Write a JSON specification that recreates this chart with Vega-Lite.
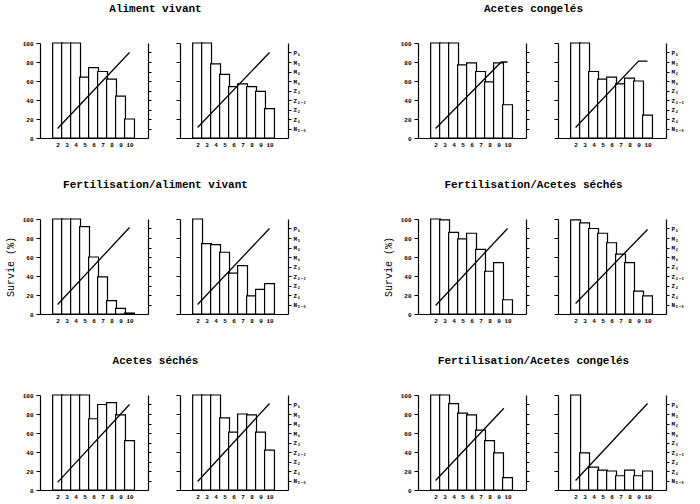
{
"$schema":"https://vega.github.io/schema/vega-lite/v6.json",
"padding":{"left":5,"top":3,"right":3,"bottom":2},
"background":"white",
"datasets":{
"barres":[
{"condition":"Aliment vivant","bac":1,"jour":2,"survie":100},{"condition":"Aliment vivant","bac":1,"jour":3,"survie":100},{"condition":"Aliment vivant","bac":1,"jour":4,"survie":100},{"condition":"Aliment vivant","bac":1,"jour":5,"survie":64},{"condition":"Aliment vivant","bac":1,"jour":6,"survie":74},{"condition":"Aliment vivant","bac":1,"jour":7,"survie":70},{"condition":"Aliment vivant","bac":1,"jour":8,"survie":62},{"condition":"Aliment vivant","bac":1,"jour":9,"survie":44},{"condition":"Aliment vivant","bac":1,"jour":10,"survie":20},
{"condition":"Aliment vivant","bac":2,"jour":2,"survie":100},{"condition":"Aliment vivant","bac":2,"jour":3,"survie":100},{"condition":"Aliment vivant","bac":2,"jour":4,"survie":78},{"condition":"Aliment vivant","bac":2,"jour":5,"survie":67},{"condition":"Aliment vivant","bac":2,"jour":6,"survie":54},{"condition":"Aliment vivant","bac":2,"jour":7,"survie":57},{"condition":"Aliment vivant","bac":2,"jour":8,"survie":54},{"condition":"Aliment vivant","bac":2,"jour":9,"survie":49},{"condition":"Aliment vivant","bac":2,"jour":10,"survie":31},
{"condition":"Acetes congelés","bac":1,"jour":2,"survie":100},{"condition":"Acetes congelés","bac":1,"jour":3,"survie":100},{"condition":"Acetes congelés","bac":1,"jour":4,"survie":100},{"condition":"Acetes congelés","bac":1,"jour":5,"survie":77},{"condition":"Acetes congelés","bac":1,"jour":6,"survie":79},{"condition":"Acetes congelés","bac":1,"jour":7,"survie":70},{"condition":"Acetes congelés","bac":1,"jour":8,"survie":59},{"condition":"Acetes congelés","bac":1,"jour":9,"survie":79},{"condition":"Acetes congelés","bac":1,"jour":10,"survie":35},
{"condition":"Acetes congelés","bac":2,"jour":2,"survie":100},{"condition":"Acetes congelés","bac":2,"jour":3,"survie":100},{"condition":"Acetes congelés","bac":2,"jour":4,"survie":70},{"condition":"Acetes congelés","bac":2,"jour":5,"survie":62},{"condition":"Acetes congelés","bac":2,"jour":6,"survie":64},{"condition":"Acetes congelés","bac":2,"jour":7,"survie":57},{"condition":"Acetes congelés","bac":2,"jour":8,"survie":63},{"condition":"Acetes congelés","bac":2,"jour":9,"survie":60},{"condition":"Acetes congelés","bac":2,"jour":10,"survie":24},
{"condition":"Fertilisation/aliment vivant","bac":1,"jour":2,"survie":100},{"condition":"Fertilisation/aliment vivant","bac":1,"jour":3,"survie":100},{"condition":"Fertilisation/aliment vivant","bac":1,"jour":4,"survie":100},{"condition":"Fertilisation/aliment vivant","bac":1,"jour":5,"survie":92},{"condition":"Fertilisation/aliment vivant","bac":1,"jour":6,"survie":60},{"condition":"Fertilisation/aliment vivant","bac":1,"jour":7,"survie":39},{"condition":"Fertilisation/aliment vivant","bac":1,"jour":8,"survie":14},{"condition":"Fertilisation/aliment vivant","bac":1,"jour":9,"survie":6},{"condition":"Fertilisation/aliment vivant","bac":1,"jour":10,"survie":1},
{"condition":"Fertilisation/aliment vivant","bac":2,"jour":2,"survie":100},{"condition":"Fertilisation/aliment vivant","bac":2,"jour":3,"survie":74},{"condition":"Fertilisation/aliment vivant","bac":2,"jour":4,"survie":73},{"condition":"Fertilisation/aliment vivant","bac":2,"jour":5,"survie":65},{"condition":"Fertilisation/aliment vivant","bac":2,"jour":6,"survie":43},{"condition":"Fertilisation/aliment vivant","bac":2,"jour":7,"survie":51},{"condition":"Fertilisation/aliment vivant","bac":2,"jour":8,"survie":19},{"condition":"Fertilisation/aliment vivant","bac":2,"jour":9,"survie":26},{"condition":"Fertilisation/aliment vivant","bac":2,"jour":10,"survie":32},
{"condition":"Fertilisation/Acetes séchés","bac":1,"jour":2,"survie":100},{"condition":"Fertilisation/Acetes séchés","bac":1,"jour":3,"survie":99},{"condition":"Fertilisation/Acetes séchés","bac":1,"jour":4,"survie":86},{"condition":"Fertilisation/Acetes séchés","bac":1,"jour":5,"survie":79},{"condition":"Fertilisation/Acetes séchés","bac":1,"jour":6,"survie":85},{"condition":"Fertilisation/Acetes séchés","bac":1,"jour":7,"survie":68},{"condition":"Fertilisation/Acetes séchés","bac":1,"jour":8,"survie":45},{"condition":"Fertilisation/Acetes séchés","bac":1,"jour":9,"survie":54},{"condition":"Fertilisation/Acetes séchés","bac":1,"jour":10,"survie":15},
{"condition":"Fertilisation/Acetes séchés","bac":2,"jour":2,"survie":99},{"condition":"Fertilisation/Acetes séchés","bac":2,"jour":3,"survie":96},{"condition":"Fertilisation/Acetes séchés","bac":2,"jour":4,"survie":90},{"condition":"Fertilisation/Acetes séchés","bac":2,"jour":5,"survie":85},{"condition":"Fertilisation/Acetes séchés","bac":2,"jour":6,"survie":75},{"condition":"Fertilisation/Acetes séchés","bac":2,"jour":7,"survie":63},{"condition":"Fertilisation/Acetes séchés","bac":2,"jour":8,"survie":54},{"condition":"Fertilisation/Acetes séchés","bac":2,"jour":9,"survie":24},{"condition":"Fertilisation/Acetes séchés","bac":2,"jour":10,"survie":19},
{"condition":"Acetes séchés","bac":1,"jour":2,"survie":100},{"condition":"Acetes séchés","bac":1,"jour":3,"survie":100},{"condition":"Acetes séchés","bac":1,"jour":4,"survie":100},{"condition":"Acetes séchés","bac":1,"jour":5,"survie":100},{"condition":"Acetes séchés","bac":1,"jour":6,"survie":75},{"condition":"Acetes séchés","bac":1,"jour":7,"survie":90},{"condition":"Acetes séchés","bac":1,"jour":8,"survie":92},{"condition":"Acetes séchés","bac":1,"jour":9,"survie":79},{"condition":"Acetes séchés","bac":1,"jour":10,"survie":52},
{"condition":"Acetes séchés","bac":2,"jour":2,"survie":100},{"condition":"Acetes séchés","bac":2,"jour":3,"survie":100},{"condition":"Acetes séchés","bac":2,"jour":4,"survie":100},{"condition":"Acetes séchés","bac":2,"jour":5,"survie":76},{"condition":"Acetes séchés","bac":2,"jour":6,"survie":61},{"condition":"Acetes séchés","bac":2,"jour":7,"survie":80},{"condition":"Acetes séchés","bac":2,"jour":8,"survie":79},{"condition":"Acetes séchés","bac":2,"jour":9,"survie":61},{"condition":"Acetes séchés","bac":2,"jour":10,"survie":42},
{"condition":"Fertilisation/Acetes congelés","bac":1,"jour":2,"survie":100},{"condition":"Fertilisation/Acetes congelés","bac":1,"jour":3,"survie":100},{"condition":"Fertilisation/Acetes congelés","bac":1,"jour":4,"survie":91},{"condition":"Fertilisation/Acetes congelés","bac":1,"jour":5,"survie":81},{"condition":"Fertilisation/Acetes congelés","bac":1,"jour":6,"survie":79},{"condition":"Fertilisation/Acetes congelés","bac":1,"jour":7,"survie":63},{"condition":"Fertilisation/Acetes congelés","bac":1,"jour":8,"survie":52},{"condition":"Fertilisation/Acetes congelés","bac":1,"jour":9,"survie":39},{"condition":"Fertilisation/Acetes congelés","bac":1,"jour":10,"survie":13},
{"condition":"Fertilisation/Acetes congelés","bac":2,"jour":2,"survie":100},{"condition":"Fertilisation/Acetes congelés","bac":2,"jour":3,"survie":39},{"condition":"Fertilisation/Acetes congelés","bac":2,"jour":4,"survie":24},{"condition":"Fertilisation/Acetes congelés","bac":2,"jour":5,"survie":21},{"condition":"Fertilisation/Acetes congelés","bac":2,"jour":6,"survie":20},{"condition":"Fertilisation/Acetes congelés","bac":2,"jour":7,"survie":15},{"condition":"Fertilisation/Acetes congelés","bac":2,"jour":8,"survie":21},{"condition":"Fertilisation/Acetes congelés","bac":2,"jour":9,"survie":15},{"condition":"Fertilisation/Acetes congelés","bac":2,"jour":10,"survie":20}
],
"stades":[
{"condition":"Aliment vivant","bac":1,"jour":2,"stade":10},{"condition":"Aliment vivant","bac":1,"jour":10,"stade":90},
{"condition":"Aliment vivant","bac":2,"jour":2,"stade":11},{"condition":"Aliment vivant","bac":2,"jour":10,"stade":90},
{"condition":"Acetes congelés","bac":1,"jour":2,"stade":10},{"condition":"Acetes congelés","bac":1,"jour":9.3,"stade":80},{"condition":"Acetes congelés","bac":1,"jour":10,"stade":80},
{"condition":"Acetes congelés","bac":2,"jour":2,"stade":11},{"condition":"Acetes congelés","bac":2,"jour":9,"stade":81},{"condition":"Acetes congelés","bac":2,"jour":10,"stade":81},
{"condition":"Fertilisation/aliment vivant","bac":1,"jour":2,"stade":10},{"condition":"Fertilisation/aliment vivant","bac":1,"jour":10,"stade":91},
{"condition":"Fertilisation/aliment vivant","bac":2,"jour":2,"stade":10},{"condition":"Fertilisation/aliment vivant","bac":2,"jour":10,"stade":90},
{"condition":"Fertilisation/Acetes séchés","bac":1,"jour":2,"stade":9},{"condition":"Fertilisation/Acetes séchés","bac":1,"jour":10,"stade":90},
{"condition":"Fertilisation/Acetes séchés","bac":2,"jour":2,"stade":11},{"condition":"Fertilisation/Acetes séchés","bac":2,"jour":10,"stade":89},
{"condition":"Acetes séchés","bac":1,"jour":2,"stade":8},{"condition":"Acetes séchés","bac":1,"jour":10,"stade":90},
{"condition":"Acetes séchés","bac":2,"jour":2,"stade":9},{"condition":"Acetes séchés","bac":2,"jour":10,"stade":91},
{"condition":"Fertilisation/Acetes congelés","bac":1,"jour":2,"stade":10},{"condition":"Fertilisation/Acetes congelés","bac":1,"jour":9.6,"stade":86},
{"condition":"Fertilisation/Acetes congelés","bac":2,"jour":2,"stade":10},{"condition":"Fertilisation/Acetes congelés","bac":2,"jour":10,"stade":91}
]
},
"vconcat":[
{"hconcat":[
 {"title":"Aliment vivant","spacing":23,"hconcat":[
  {"width":108,"height":95,"encoding":{"x":{"field":"jour","type":"quantitative","scale":{"domain":[0.6,11.5],"nice":false,"zero":false},"axis":{"values":[2,3,4,5,6,7,8,9,10],"title":null,"ticks":false,"labelPadding":3}}},
   "layer":[
    {"data":{"name":"barres"},"transform":[{"filter":"datum.condition=='Aliment vivant' && datum.bac==1"}],"mark":{"type":"bar","fill":"white","stroke":"black","strokeWidth":1.2,"size":9.9},"encoding":{"y":{"field":"survie","type":"quantitative","scale":{"domain":[0,100]},"axis":{"orient":"left","values":[0,20,40,60,80,100],"tickSize":4,"labelPadding":3,"title":"Survie (%)","titlePadding":7,"titleOpacity":0}}}},
    {"data":{"name":"stades"},"transform":[{"filter":"datum.condition=='Aliment vivant' && datum.bac==1"}],"mark":{"type":"line","color":"black","strokeWidth":1.3},"encoding":{"y":{"field":"stade","type":"quantitative","scale":{"domain":[0,100]},"axis":{"orient":"right","values":[10,20,30,40,50,60,70,80,90],"labels":false,"tickSize":3,"title":null}}}}
   ],"resolve":{"axis":{"y":"independent"}}},
  {"width":108,"height":95,"encoding":{"x":{"field":"jour","type":"quantitative","scale":{"domain":[0.6,11.5],"nice":false,"zero":false},"axis":{"values":[2,3,4,5,6,7,8,9,10],"title":null,"ticks":false,"labelPadding":3}}},
   "layer":[
    {"data":{"name":"barres"},"transform":[{"filter":"datum.condition=='Aliment vivant' && datum.bac==2"}],"mark":{"type":"bar","fill":"white","stroke":"black","strokeWidth":1.2,"size":9.9},"encoding":{"y":{"field":"survie","type":"quantitative","scale":{"domain":[0,100]},"axis":{"orient":"left","values":[0,20,40,60,80,100],"labels":false,"tickSize":4,"title":null}}}},
    {"data":{"name":"stades"},"transform":[{"filter":"datum.condition=='Aliment vivant' && datum.bac==2"}],"mark":{"type":"line","color":"black","strokeWidth":1.3},"encoding":{"y":{"field":"stade","type":"quantitative","scale":{"domain":[0,100]},"axis":{"orient":"right","values":[10,20,30,40,50,60,70,80,90],"tickSize":3,"labelPadding":2,"title":null,"labelExpr":"datum.value==10?'N₅₋₆':datum.value==20?'Z₁':datum.value==30?'Z₂':datum.value==40?'Z₂₋₃':datum.value==50?'Z₃':datum.value==60?'M₁':datum.value==70?'M₂':datum.value==80?'M₃':'P₁'"}}}}
   ],"resolve":{"axis":{"y":"independent"}}}
 ]},
 {"title":"Acetes  congelés","spacing":23,"hconcat":[
  {"width":108,"height":95,"encoding":{"x":{"field":"jour","type":"quantitative","scale":{"domain":[0.6,11.5],"nice":false,"zero":false},"axis":{"values":[2,3,4,5,6,7,8,9,10],"title":null,"ticks":false,"labelPadding":3}}},
   "layer":[
    {"data":{"name":"barres"},"transform":[{"filter":"datum.condition=='Acetes congelés' && datum.bac==1"}],"mark":{"type":"bar","fill":"white","stroke":"black","strokeWidth":1.2,"size":9.9},"encoding":{"y":{"field":"survie","type":"quantitative","scale":{"domain":[0,100]},"axis":{"orient":"left","values":[0,20,40,60,80,100],"tickSize":4,"labelPadding":3,"title":"Survie (%)","titlePadding":7,"titleOpacity":0}}}},
    {"data":{"name":"stades"},"transform":[{"filter":"datum.condition=='Acetes congelés' && datum.bac==1"}],"mark":{"type":"line","color":"black","strokeWidth":1.3},"encoding":{"y":{"field":"stade","type":"quantitative","scale":{"domain":[0,100]},"axis":{"orient":"right","values":[10,20,30,40,50,60,70,80,90],"labels":false,"tickSize":3,"title":null}}}}
   ],"resolve":{"axis":{"y":"independent"}}},
  {"width":108,"height":95,"encoding":{"x":{"field":"jour","type":"quantitative","scale":{"domain":[0.6,11.5],"nice":false,"zero":false},"axis":{"values":[2,3,4,5,6,7,8,9,10],"title":null,"ticks":false,"labelPadding":3}}},
   "layer":[
    {"data":{"name":"barres"},"transform":[{"filter":"datum.condition=='Acetes congelés' && datum.bac==2"}],"mark":{"type":"bar","fill":"white","stroke":"black","strokeWidth":1.2,"size":9.9},"encoding":{"y":{"field":"survie","type":"quantitative","scale":{"domain":[0,100]},"axis":{"orient":"left","values":[0,20,40,60,80,100],"labels":false,"tickSize":4,"title":null}}}},
    {"data":{"name":"stades"},"transform":[{"filter":"datum.condition=='Acetes congelés' && datum.bac==2"}],"mark":{"type":"line","color":"black","strokeWidth":1.3},"encoding":{"y":{"field":"stade","type":"quantitative","scale":{"domain":[0,100]},"axis":{"orient":"right","values":[10,20,30,40,50,60,70,80,90],"tickSize":3,"labelPadding":2,"title":null,"labelExpr":"datum.value==10?'N₅₋₆':datum.value==20?'Z₁':datum.value==30?'Z₂':datum.value==40?'Z₂₋₃':datum.value==50?'Z₃':datum.value==60?'M₁':datum.value==70?'M₂':datum.value==80?'M₃':'P₁'"}}}}
   ],"resolve":{"axis":{"y":"independent"}}}
 ]}
],"spacing":77},
{"hconcat":[
 {"title":"Fertilisation/aliment vivant","spacing":23,"hconcat":[
  {"width":108,"height":95,"encoding":{"x":{"field":"jour","type":"quantitative","scale":{"domain":[0.6,11.5],"nice":false,"zero":false},"axis":{"values":[2,3,4,5,6,7,8,9,10],"title":null,"ticks":false,"labelPadding":3}}},
   "layer":[
    {"data":{"name":"barres"},"transform":[{"filter":"datum.condition=='Fertilisation/aliment vivant' && datum.bac==1"}],"mark":{"type":"bar","fill":"white","stroke":"black","strokeWidth":1.2,"size":9.9},"encoding":{"y":{"field":"survie","type":"quantitative","scale":{"domain":[0,100]},"axis":{"orient":"left","values":[0,20,40,60,80,100],"tickSize":4,"labelPadding":3,"title":"Survie (%)","titlePadding":7}}}},
    {"data":{"name":"stades"},"transform":[{"filter":"datum.condition=='Fertilisation/aliment vivant' && datum.bac==1"}],"mark":{"type":"line","color":"black","strokeWidth":1.3},"encoding":{"y":{"field":"stade","type":"quantitative","scale":{"domain":[0,100]},"axis":{"orient":"right","values":[10,20,30,40,50,60,70,80,90],"labels":false,"tickSize":3,"title":null}}}}
   ],"resolve":{"axis":{"y":"independent"}}},
  {"width":108,"height":95,"encoding":{"x":{"field":"jour","type":"quantitative","scale":{"domain":[0.6,11.5],"nice":false,"zero":false},"axis":{"values":[2,3,4,5,6,7,8,9,10],"title":null,"ticks":false,"labelPadding":3}}},
   "layer":[
    {"data":{"name":"barres"},"transform":[{"filter":"datum.condition=='Fertilisation/aliment vivant' && datum.bac==2"}],"mark":{"type":"bar","fill":"white","stroke":"black","strokeWidth":1.2,"size":9.9},"encoding":{"y":{"field":"survie","type":"quantitative","scale":{"domain":[0,100]},"axis":{"orient":"left","values":[0,20,40,60,80,100],"labels":false,"tickSize":4,"title":null}}}},
    {"data":{"name":"stades"},"transform":[{"filter":"datum.condition=='Fertilisation/aliment vivant' && datum.bac==2"}],"mark":{"type":"line","color":"black","strokeWidth":1.3},"encoding":{"y":{"field":"stade","type":"quantitative","scale":{"domain":[0,100]},"axis":{"orient":"right","values":[10,20,30,40,50,60,70,80,90],"tickSize":3,"labelPadding":2,"title":null,"labelExpr":"datum.value==10?'N₅₋₆':datum.value==20?'Z₁':datum.value==30?'Z₂':datum.value==40?'Z₂₋₃':datum.value==50?'Z₃':datum.value==60?'M₁':datum.value==70?'M₂':datum.value==80?'M₃':'P₁'"}}}}
   ],"resolve":{"axis":{"y":"independent"}}}
 ]},
 {"title":"Fertilisation/Acetes séchés","spacing":23,"hconcat":[
  {"width":108,"height":95,"encoding":{"x":{"field":"jour","type":"quantitative","scale":{"domain":[0.6,11.5],"nice":false,"zero":false},"axis":{"values":[2,3,4,5,6,7,8,9,10],"title":null,"ticks":false,"labelPadding":3}}},
   "layer":[
    {"data":{"name":"barres"},"transform":[{"filter":"datum.condition=='Fertilisation/Acetes séchés' && datum.bac==1"}],"mark":{"type":"bar","fill":"white","stroke":"black","strokeWidth":1.2,"size":9.9},"encoding":{"y":{"field":"survie","type":"quantitative","scale":{"domain":[0,100]},"axis":{"orient":"left","values":[0,20,40,60,80,100],"tickSize":4,"labelPadding":3,"title":"Survie (%)","titlePadding":7}}}},
    {"data":{"name":"stades"},"transform":[{"filter":"datum.condition=='Fertilisation/Acetes séchés' && datum.bac==1"}],"mark":{"type":"line","color":"black","strokeWidth":1.3},"encoding":{"y":{"field":"stade","type":"quantitative","scale":{"domain":[0,100]},"axis":{"orient":"right","values":[10,20,30,40,50,60,70,80,90],"labels":false,"tickSize":3,"title":null}}}}
   ],"resolve":{"axis":{"y":"independent"}}},
  {"width":108,"height":95,"encoding":{"x":{"field":"jour","type":"quantitative","scale":{"domain":[0.6,11.5],"nice":false,"zero":false},"axis":{"values":[2,3,4,5,6,7,8,9,10],"title":null,"ticks":false,"labelPadding":3}}},
   "layer":[
    {"data":{"name":"barres"},"transform":[{"filter":"datum.condition=='Fertilisation/Acetes séchés' && datum.bac==2"}],"mark":{"type":"bar","fill":"white","stroke":"black","strokeWidth":1.2,"size":9.9},"encoding":{"y":{"field":"survie","type":"quantitative","scale":{"domain":[0,100]},"axis":{"orient":"left","values":[0,20,40,60,80,100],"labels":false,"tickSize":4,"title":null}}}},
    {"data":{"name":"stades"},"transform":[{"filter":"datum.condition=='Fertilisation/Acetes séchés' && datum.bac==2"}],"mark":{"type":"line","color":"black","strokeWidth":1.3},"encoding":{"y":{"field":"stade","type":"quantitative","scale":{"domain":[0,100]},"axis":{"orient":"right","values":[10,20,30,40,50,60,70,80,90],"tickSize":3,"labelPadding":2,"title":null,"labelExpr":"datum.value==10?'N₅₋₆':datum.value==20?'Z₁':datum.value==30?'Z₂':datum.value==40?'Z₂₋₃':datum.value==50?'Z₃':datum.value==60?'M₁':datum.value==70?'M₂':datum.value==80?'M₃':'P₁'"}}}}
   ],"resolve":{"axis":{"y":"independent"}}}
 ]}
],"spacing":77},
{"hconcat":[
 {"title":"Acetes séchés","spacing":23,"hconcat":[
  {"width":108,"height":95,"encoding":{"x":{"field":"jour","type":"quantitative","scale":{"domain":[0.6,11.5],"nice":false,"zero":false},"axis":{"values":[2,3,4,5,6,7,8,9,10],"title":null,"ticks":false,"labelPadding":3}}},
   "layer":[
    {"data":{"name":"barres"},"transform":[{"filter":"datum.condition=='Acetes séchés' && datum.bac==1"}],"mark":{"type":"bar","fill":"white","stroke":"black","strokeWidth":1.2,"size":9.9},"encoding":{"y":{"field":"survie","type":"quantitative","scale":{"domain":[0,100]},"axis":{"orient":"left","values":[0,20,40,60,80,100],"tickSize":4,"labelPadding":3,"title":"Survie (%)","titlePadding":7,"titleOpacity":0}}}},
    {"data":{"name":"stades"},"transform":[{"filter":"datum.condition=='Acetes séchés' && datum.bac==1"}],"mark":{"type":"line","color":"black","strokeWidth":1.3},"encoding":{"y":{"field":"stade","type":"quantitative","scale":{"domain":[0,100]},"axis":{"orient":"right","values":[10,20,30,40,50,60,70,80,90],"labels":false,"tickSize":3,"title":null}}}}
   ],"resolve":{"axis":{"y":"independent"}}},
  {"width":108,"height":95,"encoding":{"x":{"field":"jour","type":"quantitative","scale":{"domain":[0.6,11.5],"nice":false,"zero":false},"axis":{"values":[2,3,4,5,6,7,8,9,10],"title":null,"ticks":false,"labelPadding":3}}},
   "layer":[
    {"data":{"name":"barres"},"transform":[{"filter":"datum.condition=='Acetes séchés' && datum.bac==2"}],"mark":{"type":"bar","fill":"white","stroke":"black","strokeWidth":1.2,"size":9.9},"encoding":{"y":{"field":"survie","type":"quantitative","scale":{"domain":[0,100]},"axis":{"orient":"left","values":[0,20,40,60,80,100],"labels":false,"tickSize":4,"title":null}}}},
    {"data":{"name":"stades"},"transform":[{"filter":"datum.condition=='Acetes séchés' && datum.bac==2"}],"mark":{"type":"line","color":"black","strokeWidth":1.3},"encoding":{"y":{"field":"stade","type":"quantitative","scale":{"domain":[0,100]},"axis":{"orient":"right","values":[10,20,30,40,50,60,70,80,90],"tickSize":3,"labelPadding":2,"title":null,"labelExpr":"datum.value==10?'N₅₋₆':datum.value==20?'Z₁':datum.value==30?'Z₂':datum.value==40?'Z₂₋₃':datum.value==50?'Z₃':datum.value==60?'M₁':datum.value==70?'M₂':datum.value==80?'M₃':'P₁'"}}}}
   ],"resolve":{"axis":{"y":"independent"}}}
 ]},
 {"title":"Fertilisation/Acetes congelés","spacing":23,"hconcat":[
  {"width":108,"height":95,"encoding":{"x":{"field":"jour","type":"quantitative","scale":{"domain":[0.6,11.5],"nice":false,"zero":false},"axis":{"values":[2,3,4,5,6,7,8,9,10],"title":null,"ticks":false,"labelPadding":3}}},
   "layer":[
    {"data":{"name":"barres"},"transform":[{"filter":"datum.condition=='Fertilisation/Acetes congelés' && datum.bac==1"}],"mark":{"type":"bar","fill":"white","stroke":"black","strokeWidth":1.2,"size":9.9},"encoding":{"y":{"field":"survie","type":"quantitative","scale":{"domain":[0,100]},"axis":{"orient":"left","values":[0,20,40,60,80,100],"tickSize":4,"labelPadding":3,"title":"Survie (%)","titlePadding":7,"titleOpacity":0}}}},
    {"data":{"name":"stades"},"transform":[{"filter":"datum.condition=='Fertilisation/Acetes congelés' && datum.bac==1"}],"mark":{"type":"line","color":"black","strokeWidth":1.3},"encoding":{"y":{"field":"stade","type":"quantitative","scale":{"domain":[0,100]},"axis":{"orient":"right","values":[10,20,30,40,50,60,70,80,90],"labels":false,"tickSize":3,"title":null}}}}
   ],"resolve":{"axis":{"y":"independent"}}},
  {"width":108,"height":95,"encoding":{"x":{"field":"jour","type":"quantitative","scale":{"domain":[0.6,11.5],"nice":false,"zero":false},"axis":{"values":[2,3,4,5,6,7,8,9,10],"title":null,"ticks":false,"labelPadding":3}}},
   "layer":[
    {"data":{"name":"barres"},"transform":[{"filter":"datum.condition=='Fertilisation/Acetes congelés' && datum.bac==2"}],"mark":{"type":"bar","fill":"white","stroke":"black","strokeWidth":1.2,"size":9.9},"encoding":{"y":{"field":"survie","type":"quantitative","scale":{"domain":[0,100]},"axis":{"orient":"left","values":[0,20,40,60,80,100],"labels":false,"tickSize":4,"title":null}}}},
    {"data":{"name":"stades"},"transform":[{"filter":"datum.condition=='Fertilisation/Acetes congelés' && datum.bac==2"}],"mark":{"type":"line","color":"black","strokeWidth":1.3},"encoding":{"y":{"field":"stade","type":"quantitative","scale":{"domain":[0,100]},"axis":{"orient":"right","values":[10,20,30,40,50,60,70,80,90],"tickSize":3,"labelPadding":2,"title":null,"labelExpr":"datum.value==10?'N₅₋₆':datum.value==20?'Z₁':datum.value==30?'Z₂':datum.value==40?'Z₂₋₃':datum.value==50?'Z₃':datum.value==60?'M₁':datum.value==70?'M₂':datum.value==80?'M₃':'P₁'"}}}}
   ],"resolve":{"axis":{"y":"independent"}}}
 ]}
],"spacing":77}
],
"spacing":32,
"config":{
 "view":{"stroke":null},
 "font":"Liberation Mono",
 "title":{"font":"Liberation Mono","fontSize":11,"fontWeight":"bold","offset":26,"anchor":"middle","color":"black"},
 "axis":{"grid":false,"domainColor":"black","domainWidth":1.2,"tickColor":"black","tickWidth":1,"labelColor":"black","labelFont":"Liberation Mono","labelFontSize":6,"labelFontWeight":"bold","labelFlush":false,"labelOverlap":false,"titleFont":"Liberation Mono","titleFontSize":10,"titleFontWeight":"normal","titleColor":"black"}
}
}
